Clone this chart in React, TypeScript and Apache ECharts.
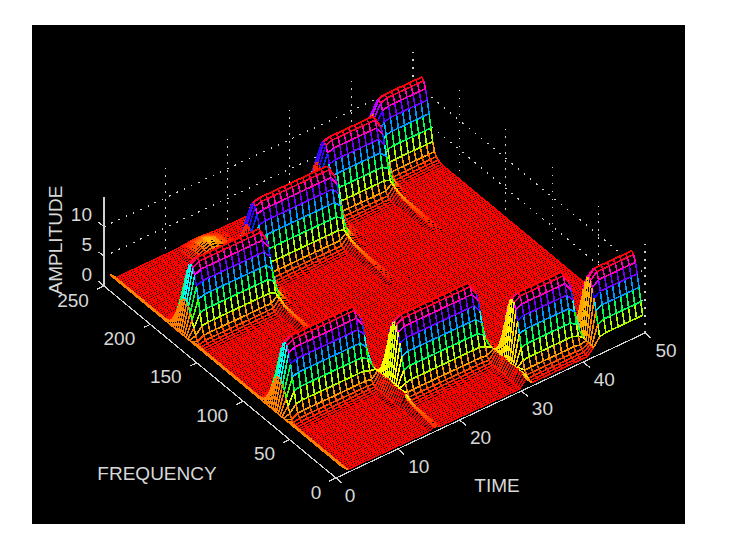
import React, { useEffect, useRef } from "react";
import * as echarts from "echarts";

// Axis ticks and titles
const timeTicks = [0, 10, 20, 30, 40, 50];
const freqTicks = [0, 50, 100, 150, 200, 250];
const ampTicks = [0, 5, 10];
const ampTop = 15;
const timeTitle = "TIME";
const freqTitle = "FREQUENCY";
const ampTitle = "AMPLITUDE";

// Sampling of the surface
const timeCount = 50;
const timeFirst = 1.3;
const timeStep = 0.994;
const freqCount = 129;
const freqFirst = 2.6;
const freqStep = 1.95;

// Peak height that the colour map spans
const peakAmp = 12;

// Tone bursts: ridge frequency, first sample, time envelope
const lowToneFreqs = [77, 52, 25, 15];
const highToneFreqs = [179, 203, 227, 241];
const toneStarts = [0, 14, 29, 40];
const lowToneEnvelopes = [
  [0.02, 0.5, 0.95, 1, 1, 1, 1, 1, 1, 1, 1, 1, 1, 1, 0.85, 0.14, 0.02],
  [0.02, 0.19, 0.95, 1, 1, 1, 1, 1, 1, 1, 1, 1, 1, 1, 1, 0.85, 0.14, 0.02],
  [0.02, 0.16, 0.95, 1, 1, 1, 1, 1, 1, 1, 1, 0.85, 0.12],
  [0.02, 0.12, 0.92, 1, 1, 1, 1, 1, 1, 1],
];
const highToneEnvelopes = [
  [0.02, 0.5, 0.95, 1, 1, 1, 1, 1, 1, 1, 1, 1, 1, 1, 0.85, 0.14, 0.02],
  [0.02, 0.72, 0.97, 1, 1, 1, 1, 1, 1, 1, 1, 1, 1, 1, 1, 0.85, 0.14, 0.02],
  [0.02, 0.72, 0.97, 1, 1, 1, 1, 1, 1, 1, 1, 0.85, 0.12],
  [0.02, 0.8, 0.97, 1, 1, 1, 1, 1, 1, 1],
];
// Height of a ridge as a fraction of its peak, by rows away from the centre
const toneProfile = [1, 0.97, 0.88, 0.74, 0.57, 0.39, 0.22, 0.1, 0.05, 0.025, 0.012, 0.005];

// Broad low shelves where a lower tone switches on
const onsetSamples = [15, 30, 41];
const onsetFreqs = [52, 25, 15];
const onsetHeights = [2.0, 1.7, 1.1];
const onsetRows = [0, 1, 2, 3, 4, 5, 6, 7, 8, 9];

// Small bump at the far edge
const bumpFreq = 240;
const bumpStart = 11;
const bumpEnvelope = [0.02, 0.05, 0.09, 0.12, 0.1, 0.05, 0.02];

// Skirts running towards lower frequency between bursts
const lowSkirtSamples = [15, 30, 40];
const lowSkirtFreqs = [52, 25, 15];
const highSkirtSamples = [14, 29, 40];
const highSkirtFreqs = [179, 203, 227];
const skirtHeights = [2.0, 1.7, 1.5, 1.3, 1.15, 1.0, 0.9, 0.85, 0.8, 0.75, 0.7, 0.65, 0.6, 0.55, 0.5, 0.45, 0.4, 0.36, 0.32, 0.28, 0.24, 0.2, 0.16, 0.12, 0.08, 0.04];

// First time sample sits a little above the floor
const firstSampleHeight = 1;

const freqRow = (f: number) => Math.round((f - freqFirst) / freqStep);

const buildSurface = () => {
  const z: number[][] = [];
  for (let i = 0; i < timeCount; i++) {
    const row = new Array(freqCount).fill(0);
    if (i === 0) row.fill(firstSampleHeight);
    z.push(row);
  }
  const lift = (i: number, j: number, v: number) => {
    if (i >= 0 && i < timeCount && j >= 0 && j < freqCount && v > z[i][j]) z[i][j] = v;
  };
  const addTone = (f: number, start: number, env: number[], amp: number) => {
    const c = freqRow(f);
    env.forEach((e, n) => {
      toneProfile.forEach((p, k) => {
        lift(start + n, c + k, amp * e * p);
        lift(start + n, c - k, amp * e * p);
      });
    });
  };
  toneStarts.forEach((s, b) => {
    addTone(lowToneFreqs[b], s, lowToneEnvelopes[b], peakAmp);
    addTone(highToneFreqs[b], s, highToneEnvelopes[b], peakAmp);
  });
  addTone(bumpFreq, bumpStart, bumpEnvelope, peakAmp);
  onsetSamples.forEach((i, b) => {
    const c = freqRow(onsetFreqs[b]);
    onsetRows.forEach((k) => {
      lift(i, c + k, onsetHeights[b]);
      lift(i, c - k, onsetHeights[b]);
    });
  });
  const addSkirt = (f: number, i: number) => {
    const c = freqRow(f) - 7;
    skirtHeights.forEach((h, n) => lift(i, c - n, h));
  };
  lowSkirtSamples.forEach((i, b) => addSkirt(lowSkirtFreqs[b], i));
  highSkirtSamples.forEach((i, b) => addSkirt(highSkirtFreqs[b], i));
  return z;
};

const project = (t: number, f: number, z: number): [number, number] => [
  336 + t * 6.18 - f * 0.928,
  478 - t * 2.9 - f * 0.768 - z * 5.93,
];

const hsv = (v: number) => {
  const h = Math.max(0, Math.min(1, v)) * 6;
  const x = 1 - Math.abs((h % 2) - 1);
  const c = [
    [1, x, 0],
    [x, 1, 0],
    [0, 1, x],
    [0, x, 1],
    [x, 0, 1],
    [1, 0, x],
    [1, x, 0],
  ][Math.floor(h)];
  return `rgb(${c.map((n) => Math.round(n * 255)).join(",")})`;
};

const AXIS_COLOR = "#d0d0d0";
const TEXT_FONT = '19px "Liberation Sans", Arial, sans-serif';
const MESH_WIDTH = 1.6;
const FLOOR_WIDTH = 1.7;

export default function App() {
  const ref = useRef<HTMLDivElement>(null);
  useEffect(() => {
    if (!ref.current) return;
    const chart = echarts.init(ref.current, undefined, { renderer: "svg" });
    const surface = buildSurface();
    const tAt = (i: number) => timeFirst + i * timeStep;
    const fAt = (j: number) => freqFirst + j * freqStep;

    const cells: number[][] = [];
    for (let i = timeCount - 2; i >= 0; i--) {
      for (let j = freqCount - 2; j >= 0; j--) cells.push([i, j]);
    }

    type Seg = { a: number[]; b: number[]; dash?: boolean };
    const gridSegs: Seg[] = [];
    timeTicks.forEach((t) => {
      gridSegs.push({ a: [t, 250, 0], b: [t, 250, ampTop], dash: true });
    });
    freqTicks.forEach((f) => {
      gridSegs.push({ a: [50, f, 0], b: [50, f, ampTop], dash: true });
    });
    ampTicks.forEach((z) => {
      if (z === 0) return;
      gridSegs.push({ a: [0, 250, z], b: [50, 250, z], dash: true });
      gridSegs.push({ a: [50, 250, z], b: [50, 0, z], dash: true });
    });
    const axisSegs: Seg[] = [
      { a: [0, 0, 0], b: [50, 0, 0] },
      { a: [0, 0, 0], b: [0, 250, 0] },
      { a: [0, 250, 0], b: [0, 250, ampTop] },
    ];
    timeTicks.forEach((t) => axisSegs.push({ a: [t, 0, 0], b: [t, -7, 0] }));
    freqTicks.forEach((f) => axisSegs.push({ a: [0, f, 0], b: [-1.1, f, 0] }));
    ampTicks.forEach((z) => axisSegs.push({ a: [0, 250, z], b: [0, 256, z] }));

    const digitOffset = (s: string) => (s.length === 1 ? -20 : s.length === 2 ? -25 : -31);
    type Lab = { text: string; x: number; y: number; rot?: number; align?: string };
    const labels: Lab[] = [];
    timeTicks.forEach((t) => {
      const [x, y] = project(t, 0, 0);
      labels.push({ text: String(t), x: x + (t === 0 ? 14 : 21), y: y + 17 });
    });
    freqTicks.forEach((f) => {
      const [x, y] = project(0, f, 0);
      labels.push({ text: String(f), x: x + digitOffset(String(f)), y: y + 14 });
    });
    ampTicks.forEach((z) => {
      const [, y] = project(0, 250, z);
      labels.push({ text: String(z), x: 92, y: y - 12, align: "right" });
    });
    labels.push({ text: timeTitle, x: 497, y: 485 });
    labels.push({ text: freqTitle, x: 157, y: 473 });
    labels.push({ text: ampTitle, x: 55, y: 240, rot: Math.PI / 2 });

    const segSeries = (segs: Seg[]) => ({
      type: "custom",
      coordinateSystem: "cartesian2d",
      silent: true,
      progressive: 0,
      data: segs.map((_, n) => [n, 0]),
      encode: { x: 0, y: 1 },
      renderItem: (params: any, api: any) => {
        const s = segs[params.dataIndex];
        const p = api.coord(project(s.a[0], s.a[1], s.a[2]));
        const q = api.coord(project(s.b[0], s.b[1], s.b[2]));
        return {
          type: "line",
          shape: { x1: p[0], y1: p[1], x2: q[0], y2: q[1] },
          style: {
            stroke: AXIS_COLOR,
            lineWidth: s.dash ? 1.3 : 1.2,
            lineDash: s.dash ? [1.6, 6.4] : undefined,
            fill: "none",
          },
        };
      },
    });

    const edge = (p: number[], q: number[], z: number) => ({
      type: "line",
      shape: { x1: p[0], y1: p[1], x2: q[0], y2: q[1] },
      style: { stroke: hsv(z / peakAmp), lineWidth: MESH_WIDTH, fill: "none" },
    });

    chart.setOption({
      animation: false,
      backgroundColor: "#ffffff",
      grid: {
        left: 32,
        top: 25,
        width: 653,
        height: 499,
        show: true,
        backgroundColor: "#000000",
        borderWidth: 0,
      },
      xAxis: { type: "value", min: 32, max: 685, show: false },
      yAxis: { type: "value", min: 25, max: 524, inverse: true, show: false },
      series: [
        segSeries(gridSegs),
        {
          type: "custom",
          coordinateSystem: "cartesian2d",
          silent: true,
          progressive: 0,
          clip: false,
          data: cells,
          encode: { x: 0, y: 1 },
          renderItem: (params: any, api: any) => {
            const [i, j] = cells[params.dataIndex];
            const pt = (a: number, b: number): number[] =>
              api.coord(project(tAt(a), fAt(b), surface[a][b]));
            const z00 = surface[i][j];
            const z10 = surface[i + 1][j];
            const z01 = surface[i][j + 1];
            const z11 = surface[i + 1][j + 1];
            const p00 = pt(i, j);
            const p10 = pt(i + 1, j);
            const p01 = pt(i, j + 1);
            const p11 = pt(i + 1, j + 1);
            if (z00 === 0 && z10 === 0 && z01 === 0 && z11 === 0) {
              return {
                type: "polygon",
                shape: { points: [p00, p10, p11, p01] },
                style: { fill: "#000", stroke: "#ff0000", lineWidth: FLOOR_WIDTH },
              };
            }
            // each edge takes the colour of its lower-time or lower-frequency end
            return {
              type: "group",
              children: [
                {
                  type: "polygon",
                  shape: { points: [p00, p10, p11, p01] },
                  style: { fill: "#000", stroke: "none" },
                },
                edge(p10, p11, z10),
                edge(p01, p11, z01),
                edge(p00, p10, z00),
                edge(p00, p01, z00),
              ],
            };
          },
        },
        segSeries(axisSegs),
        {
          type: "custom",
          coordinateSystem: "cartesian2d",
          silent: true,
          progressive: 0,
          data: labels.map((_, n) => [n, 0]),
          encode: { x: 0, y: 1 },
          renderItem: (params: any, api: any) => {
            const l = labels[params.dataIndex];
            const p = api.coord([l.x, l.y]);
            return {
              type: "text",
              x: p[0],
              y: p[1],
              rotation: l.rot || 0,
              style: {
                text: l.text,
                fill: "#d8d8d8",
                font: TEXT_FONT,
                align: l.align || "center",
                verticalAlign: "middle",
              },
            };
          },
        },
      ],
    });
    return () => chart.dispose();
  }, []);
  return (
    <div style={{ position: "absolute", left: 0, top: 0, width: 734, height: 560, background: "#fff" }}>
      <style>{`.mesh svg path{shape-rendering:crispEdges}`}</style>
      <div ref={ref} className="mesh" style={{ width: 734, height: 560 }} />
    </div>
  );
}
